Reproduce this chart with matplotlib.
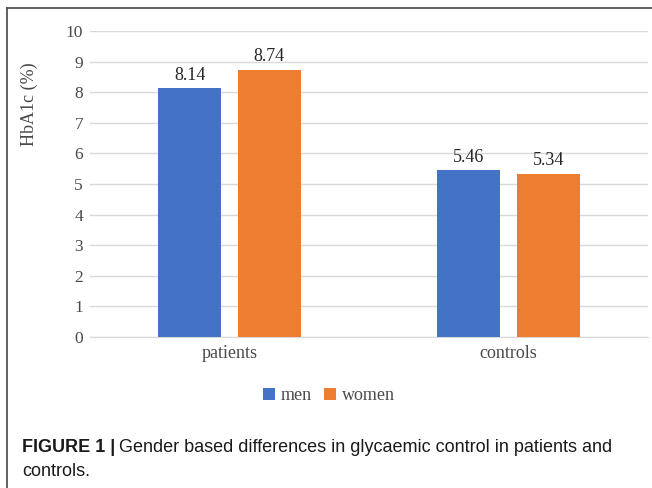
import matplotlib
matplotlib.use("Agg")
import matplotlib.pyplot as plt
import numpy as np
from matplotlib.patches import Patch
from matplotlib.lines import Line2D

categories = ["patients", "controls"]
series_names = ["men", "women"]
men = [8.14, 5.46]
women = [8.74, 5.34]
yticks = list(range(0, 11))

W, H = 652, 488
fig = plt.figure(figsize=(W / 100, H / 100), dpi=100)
serif = ["Liberation Serif", "DejaVu Serif"]

def fx(px):
    return px / W

def fy(py):
    return 1 - py / H

ax = fig.add_axes([fx(90), fy(337), fx(648) - fx(90), fy(31) - fy(337)])
x = np.arange(len(categories))
bw = 0.226
off = 0.143
colors = ["#4472C4", "#ED7D31"]
b1 = ax.bar(x - off, men, bw, color=colors[0], zorder=3)
b2 = ax.bar(x + off, women, bw, color=colors[1], zorder=3)
for bars, vals in ((b1, men), (b2, women)):
    for r, v in zip(bars, vals):
        ax.annotate(f"{v:.2f}", (r.get_x() + r.get_width() / 2, v), xytext=(0, 6),
                    textcoords="offset points", ha="center", va="baseline",
                    fontsize=13, family=serif, color="#262626")

ax.set_xlim(-0.5, 1.5)
ax.set_ylim(0, 10)
ax.set_yticks(yticks)
ax.set_yticklabels([str(t) for t in yticks], family=serif, fontsize=12.5, color="#4a4a4a")
ax.set_xticks(x)
ax.set_xticklabels(categories, family=serif, fontsize=13, color="#4a4a4a")
ax.tick_params(axis="both", length=0)
ax.tick_params(axis="y", pad=5)
ax.tick_params(axis="x", pad=6)
ax.grid(axis="y", color="#D9D9D9", linewidth=1.0, zorder=0)
for s in ["top", "right", "left"]:
    ax.spines[s].set_visible(False)
ax.spines["bottom"].set_color("#D9D9D9")
ax.spines["bottom"].set_zorder(1)

fig.text(fx(29.5), fy(104), "HbA1c (%)", rotation=90, ha="center", va="center",
         family=serif, fontsize=13, color="#4a4a4a")

handles = [Patch(facecolor=c, edgecolor="none") for c in colors]
fig.legend(handles, series_names, loc="center", bbox_to_anchor=(fx(329), fy(396)), ncol=2,
           frameon=False, prop={"family": serif, "size": 13}, handlelength=0.67, handleheight=0.67,
           handletextpad=0.3, columnspacing=0.7, labelcolor="#4a4a4a", borderpad=0)

# border (top and left)
fig.add_artist(Line2D([fx(7), fx(7)], [fy(8), 0], color="#555555", linewidth=1.3))
fig.add_artist(Line2D([fx(7), 1], [fy(8), fy(8)], color="#555555", linewidth=1.3))

cap_font = ["Liberation Sans", "DejaVu Sans"]
t1 = fig.text(fx(22), fy(447), "FIGURE 1 |", family=cap_font, fontsize=13, weight="bold",
              va="center", ha="left", color="#1a1a1a")
fig.canvas.draw()
bb = t1.get_window_extent()
fig.text(bb.x1 / W + fx(4), fy(447), "Gender based differences in glycaemic control in patients and",
         family=cap_font, fontsize=13, va="center", ha="left", color="#1a1a1a")
fig.text(fx(22), fy(472), "controls.", family=cap_font, fontsize=13, va="center", ha="left",
         color="#1a1a1a")

fig.savefig("out.png", dpi=100)
